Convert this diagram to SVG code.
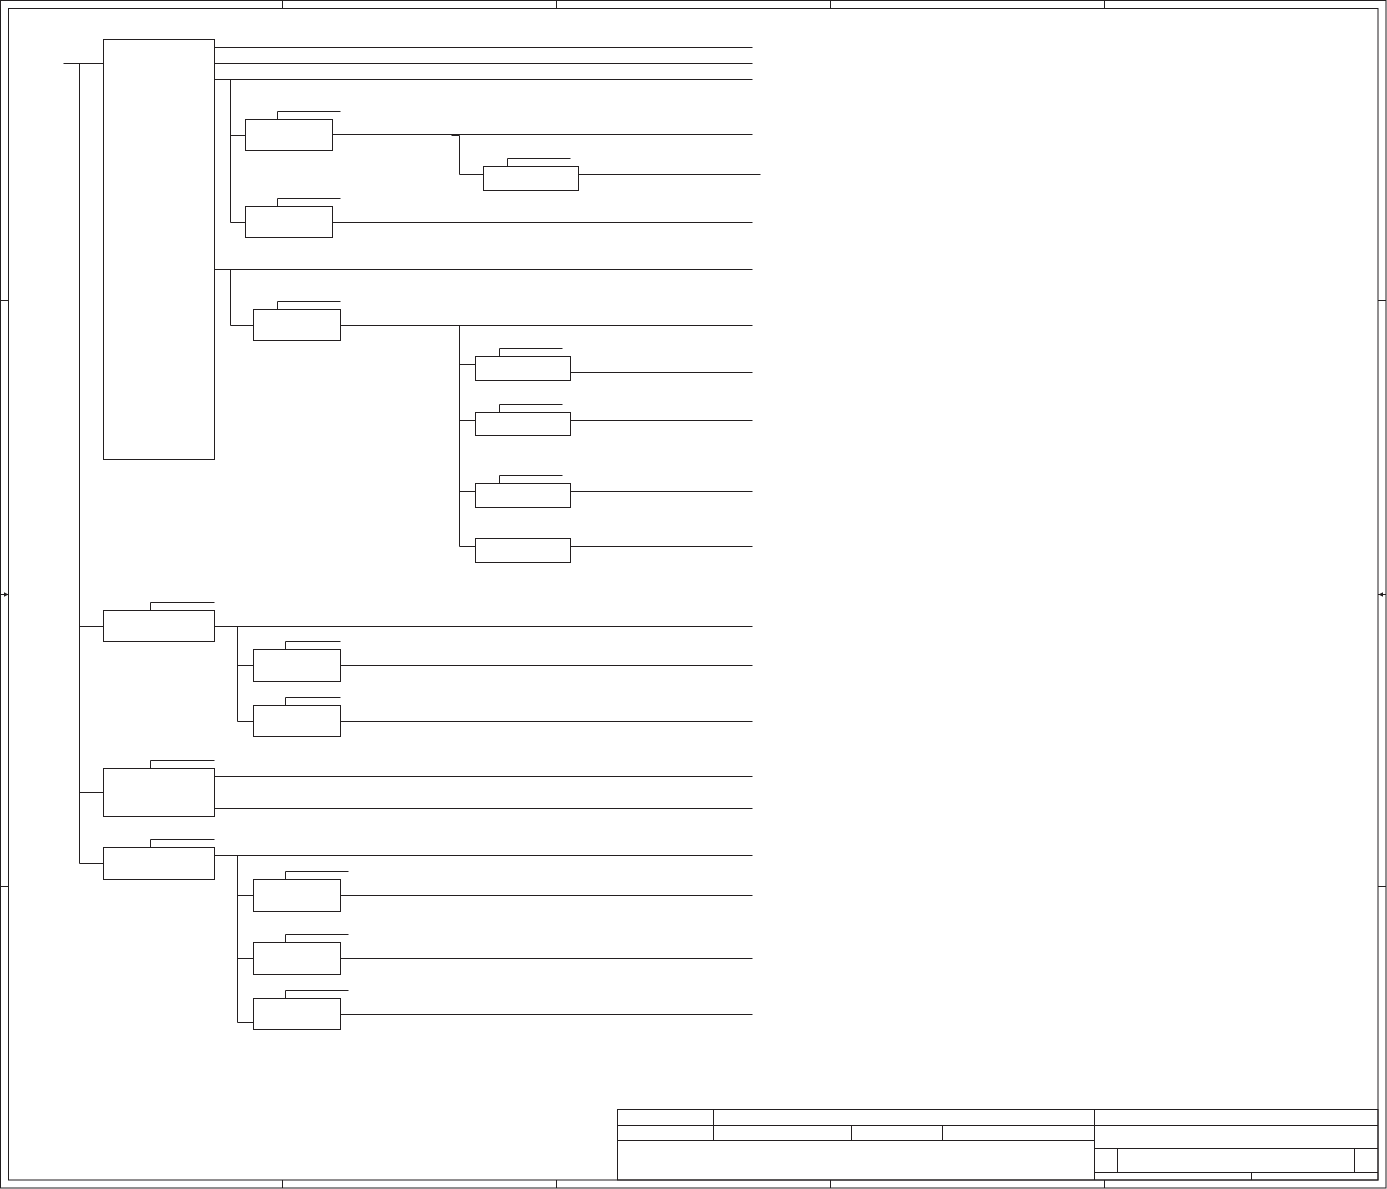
<svg xmlns="http://www.w3.org/2000/svg" width="1387" height="1189" viewBox="0 0 1387 1189">
<style>
.s{fill:none;stroke:#231f20;stroke-width:1}
.b{fill:#fff;stroke:#231f20;stroke-width:1}
.ah{fill:#231f20;stroke:none}
</style>
<rect width="1387" height="1189" fill="#fff"/>
<g id="frame">
<rect class="s" x="0.5" y="0.5" width="1385.5" height="1187.5"/>
<rect class="s" x="8.5" y="8.5" width="1369.5" height="1171.5"/>
<path class="s" d="M282.5 0V8.5M556.5 0V8.5M830.5 0V8.5M1104.5 0V8.5M282.5 1180V1188M556.5 1180V1188M830.5 1180V1188M1104.5 1180V1188M0 300.5H8.5M0 886.5H8.5M1378 300.5H1386M1378 886.5H1386M0 594.5H8.5M1378 594.5H1386"/>
<path class="ah" d="M8.5 594.5L4 592.3V596.7Z"/>
<path class="ah" d="M1378.5 594.5L1383 592.3V596.7Z"/>
</g>
<g id="title-block">
<rect class="s" x="617.5" y="1109.5" width="760.5" height="70.5"/>
<path class="s" d="M617.5 1125.5H1378M617.5 1140.5H1094.5M713.5 1109.5V1140.5M851.5 1125.5V1140.5M942.5 1125.5V1140.5M1094.5 1109.5V1180M1094.5 1148.5H1378M1094.5 1172.5H1378M1117.5 1148.5V1172.5M1354.5 1148.5V1172.5M1251.5 1172.5V1180"/>
</g>
<g id="connectors">
<path class="s" d="M63.5 63.5H103.5M79.5 63.5V863.5"/>
<path class="s" d="M214.5 47.5H752.5M214.5 63.5H752.5M214.5 79.5H752.5M230.5 79.5V222.5M230.5 135.5H245.5M230.5 222.5H245.5"/>
<path class="s" d="M332.5 134.5H752.5M451.5 135.5H459.5M459.5 135.5V174.5H483.5M578.5 174.5H760.5M332.5 222.5H752.5"/>
<path class="s" d="M214.5 269.5H752.5M230.5 269.5V325.5H253.5M340.5 325.5H752.5M459.5 325.5V546.5"/>
<path class="s" d="M459.5 364.5H475.5M570.5 372.5H752.5M459.5 420.5H475.5M570.5 420.5H752.5M459.5 491.5H475.5M570.5 491.5H752.5M459.5 546.5H475.5M570.5 546.5H752.5"/>
<path class="s" d="M79.5 626.5H103.5M214.5 626.5H752.5M237.5 626.5V721.5M237.5 665.5H253.5M340.5 665.5H752.5M237.5 721.5H253.5M340.5 721.5H752.5"/>
<path class="s" d="M79.5 792.5H103.5M214.5 776.5H752.5M214.5 808.5H752.5"/>
<path class="s" d="M79.5 863.5H103.5M214.5 855.5H752.5M237.5 855.5V1022.5M237.5 895.5H253.5M340.5 895.5H752.5M237.5 958.5H253.5M340.5 958.5H752.5M237.5 1022.5H253.5M340.5 1014.5H752.5"/>
</g>
<g id="node-main"><rect class="b" x="103.5" y="39.5" width="111" height="420"/></g>
<g id="node-a1"><rect class="b" x="245.5" y="119.5" width="87" height="31"/><path class="s" d="M277.5 119.5V111.5H340.5"/></g>
<g id="node-a1a"><rect class="b" x="483.5" y="166.5" width="95" height="24"/><path class="s" d="M507.5 166.5V158.5H570.5"/></g>
<g id="node-a2"><rect class="b" x="245.5" y="206.5" width="87" height="31"/><path class="s" d="M277.5 206.5V198.5H340.5"/></g>
<g id="node-b"><rect class="b" x="253.5" y="309.5" width="87" height="31"/><path class="s" d="M277.5 309.5V301.5H340.5"/></g>
<g id="node-b1"><rect class="b" x="475.5" y="356.5" width="95" height="24"/><path class="s" d="M499.5 356.5V348.5H562.5"/></g>
<g id="node-b2"><rect class="b" x="475.5" y="412.5" width="95" height="23"/><path class="s" d="M499.5 412.5V404.5H562.5"/></g>
<g id="node-b3"><rect class="b" x="475.5" y="483.5" width="95" height="24"/><path class="s" d="M499.5 483.5V475.5H562.5"/></g>
<g id="node-b4"><rect class="b" x="475.5" y="538.5" width="95" height="24"/></g>
<g id="node-c"><rect class="b" x="103.5" y="610.5" width="111" height="31"/><path class="s" d="M150.5 610.5V602.5H214.5"/></g>
<g id="node-c1"><rect class="b" x="253.5" y="649.5" width="87" height="32"/><path class="s" d="M285.5 649.5V641.5H340.5"/></g>
<g id="node-c2"><rect class="b" x="253.5" y="705.5" width="87" height="31"/><path class="s" d="M285.5 705.5V697.5H340.5"/></g>
<g id="node-d"><rect class="b" x="103.5" y="768.5" width="111" height="48"/><path class="s" d="M150.5 768.5V760.5H214.5"/></g>
<g id="node-e"><rect class="b" x="103.5" y="847.5" width="111" height="32"/><path class="s" d="M150.5 847.5V839.5H214.5"/></g>
<g id="node-e1"><rect class="b" x="253.5" y="879.5" width="87" height="32"/><path class="s" d="M285.5 879.5V871.5H348.5"/></g>
<g id="node-e2"><rect class="b" x="253.5" y="942.5" width="87" height="32"/><path class="s" d="M285.5 942.5V934.5H348.5"/></g>
<g id="node-e3"><rect class="b" x="253.5" y="998.5" width="87" height="31"/><path class="s" d="M285.5 998.5V990.5H348.5"/></g>
</svg>
